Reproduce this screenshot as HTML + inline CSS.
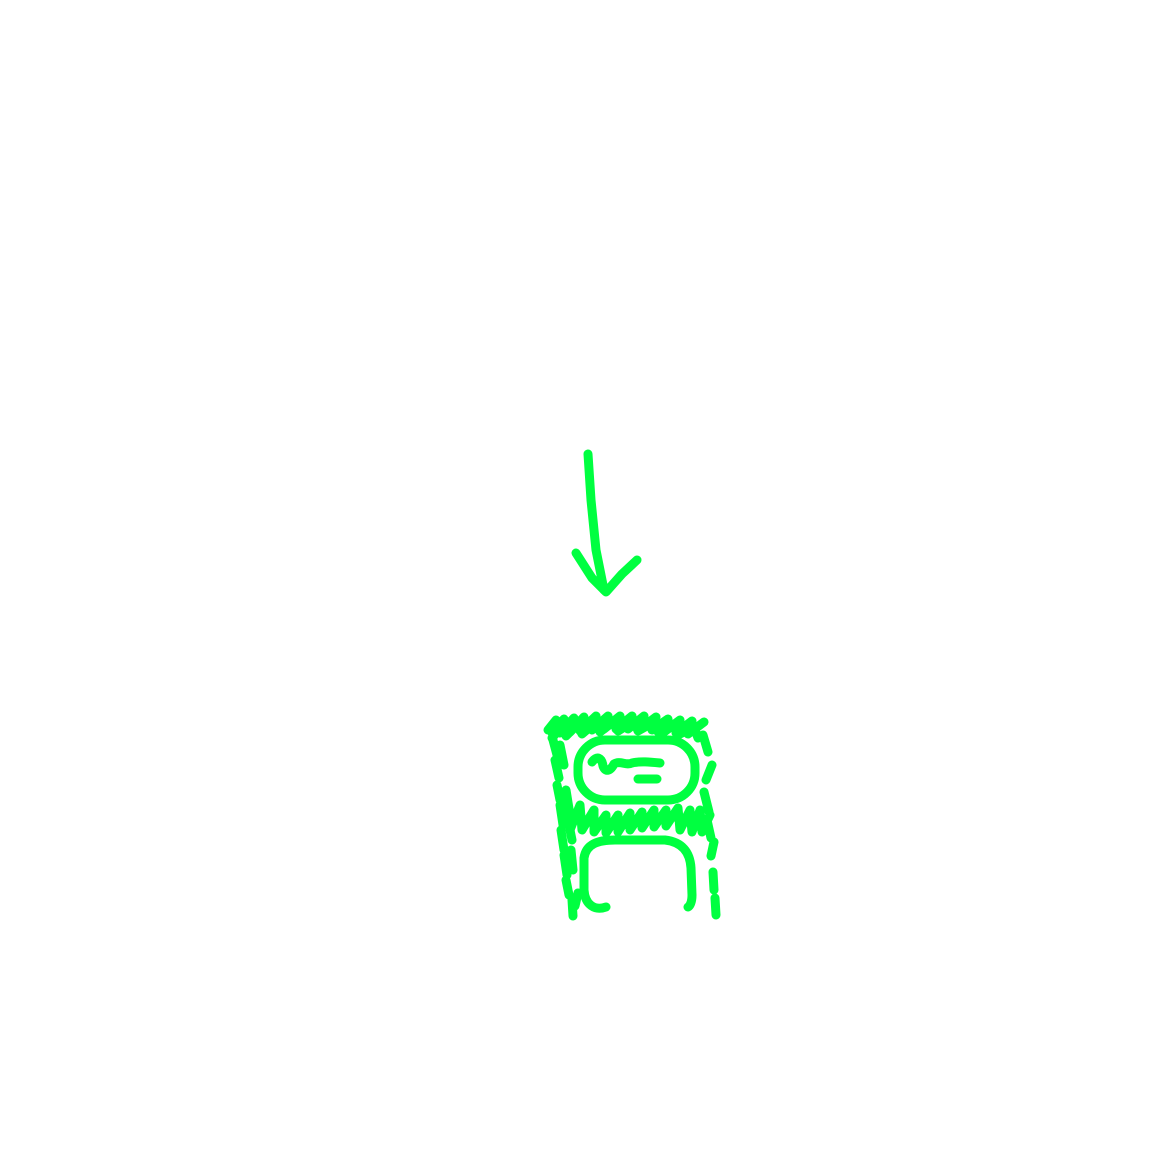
<!DOCTYPE html>
<html><head><style>html,body{margin:0;padding:0;background:#fff}svg{display:block}</style></head>
<body>
<svg width="1152" height="1152" viewBox="0 0 1152 1152" xmlns="http://www.w3.org/2000/svg">
<g fill="none" stroke="#00ff40" stroke-width="9" stroke-linecap="round" stroke-linejoin="round">
<path d="M588 454 L591 500 L596 550 L604 590"/>
<path d="M576 553 L592 578 L606 592 L622 574 L637 560"/>
<path d="M548 730 L556 720 L552 733 L564 719 L560 733 L574 718 L570 732 L584 717 L580 731 L596 716 L592 730 L608 716 L604 729 L620 716 L616 729 L632 716 L628 729 L644 716 L640 729 L656 717 L652 730 L668 719 L664 732 L680 720 L676 733 L692 721 L688 734 L704 722"/>
<path d="M552 738 L562 726 L566 736 L578 724 L582 734 L596 722 L600 732 L614 721 L618 731 L634 721 L638 731 L654 722 L658 732 L674 724 L678 735 L694 727 L698 738"/>
<path d="M553 740 L557 755 M555 760 L559 778 M557 785 L560 800 M560 805 L563 825 M561 830 L564 850 M564 855 L567 875 M566 880 L569 895 M572 900 L573 916 M578 893 L575 906"/>
<path d="M566 790 L570 815 M568 820 L572 840 M571 850 L573 870 M560 745 L564 765"/>
<path d="M703 735 L708 752 M712 765 L706 780 M704 792 L709 812 M707 820 L711 838 M714 842 L711 856 M713 872 L714 890 M715 898 L716 915"/>
<path d="M570 830 L580 805 L582 830 L594 810 L594 832 L606 815 L606 833 L618 815 L618 832 L630 813 L630 830 L642 812 L642 828 L654 810 L654 827 L666 810 L666 826 L678 808 L680 830 L690 810 L692 832 L700 810 L702 832 L710 815"/>
<rect x="578" y="740" width="117" height="60" rx="27" ry="27"/>
<path d="M592 762 C597 755 602 758 603 766 C605 772 610 772 614 764 C620 760 626 766 632 763 C640 761 650 762 660 763"/>
<path d="M638 779 L657 779"/>
<path d="M606 907 C595 911 585 905 584 890 L584 858 C586 844 598 840 615 840 L665 840 C682 842 690 852 691 868 L692 895 C692 902 690 906 688 907"/>
</g>
</svg>
</body></html>
